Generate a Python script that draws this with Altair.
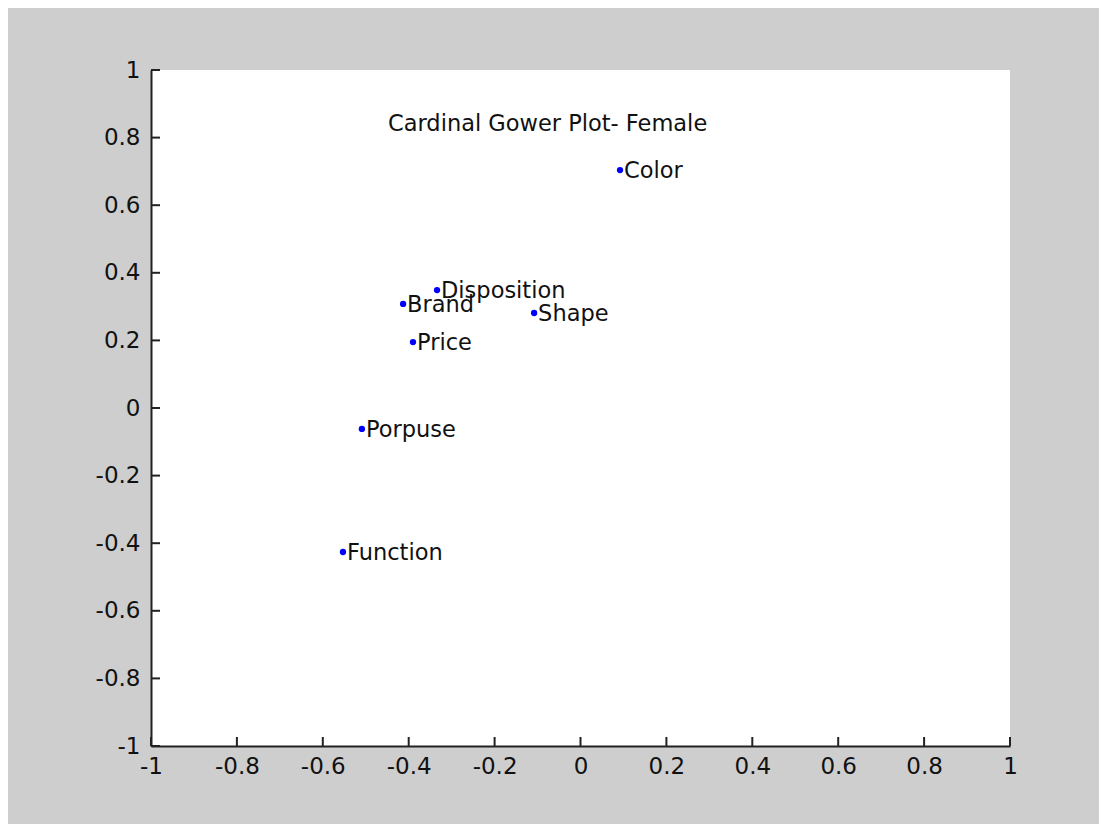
import altair as alt
import pandas as pd

names = ["Color", "Disposition", "Brand", "Shape", "Price", "Porpuse", "Function"]
xs = [0.092, -0.334, -0.413, -0.108, -0.390, -0.509, -0.553]
ys = [0.704, 0.349, 0.308, 0.281, 0.195, -0.062, -0.426]
ticks = [-1, -0.8, -0.6, -0.4, -0.2, 0, 0.2, 0.4, 0.6, 0.8, 1]
title_text = "Cardinal Gower Plot- Female"

W, H = 859, 676
FONT = "DejaVu Sans"

df = pd.DataFrame({"name": names, "x": xs, "y": ys})
tdf = pd.DataFrame({"t": ticks})

xscale = alt.Scale(domain=[-1, 1], nice=False, zero=False)
yscale = alt.Scale(domain=[-1, 1], nice=False, zero=False)

lab = "'' + datum.value"
xaxis = alt.Axis(values=ticks, labelExpr=lab, title=None, grid=False, ticks=False,
                 domainColor="#222222", domainWidth=2, labelColor="#111111",
                 labelFont=FONT, labelFontSize=23, labelPadding=9, labelFlush=False)
yaxis = alt.Axis(values=ticks, labelExpr=lab, title=None, grid=False, ticks=False,
                 domainColor="#222222", domainWidth=2, labelColor="#111111",
                 labelFont=FONT, labelFontSize=23, labelPadding=11, labelFlush=False)

base = alt.Chart(df)

points = base.mark_point(filled=True, color="#0000ff", size=40, opacity=1).encode(
    x=alt.X("x:Q", scale=xscale, axis=xaxis),
    y=alt.Y("y:Q", scale=yscale, axis=yaxis),
)

labels = base.mark_text(align="left", baseline="middle", dx=4, dy=1, font=FONT,
                        fontSize=22.5, color="#111111").encode(
    x=alt.X("x:Q", scale=xscale),
    y=alt.Y("y:Q", scale=yscale),
    text="name:N",
)

xt = alt.Chart(tdf).mark_rule(color="#222222", strokeWidth=2).encode(
    x=alt.X("t:Q", scale=xscale),
    y=alt.value(H),
    y2=alt.value(H - 9),
)
yt = alt.Chart(tdf).mark_rule(color="#222222", strokeWidth=2).encode(
    y=alt.Y("t:Q", scale=yscale),
    x=alt.value(0),
    x2=alt.value(9),
)

title = alt.Chart(pd.DataFrame({"s": [title_text]})).mark_text(
    align="left", baseline="middle", font=FONT, fontSize=22.5, color="#111111"
).encode(x=alt.value(237), y=alt.value(54), text="s:N")

chart = alt.layer(points, labels, xt, yt, title).properties(
    width=W, height=H,
    autosize=alt.AutoSizeParams(type="none"),
    padding={"left": 143, "top": 62, "right": 89, "bottom": 78},
    background="#cecece",
).configure_view(fill="white", stroke=None)

chart.save("out.html", embed_options={"renderer": "svg", "actions": False})
